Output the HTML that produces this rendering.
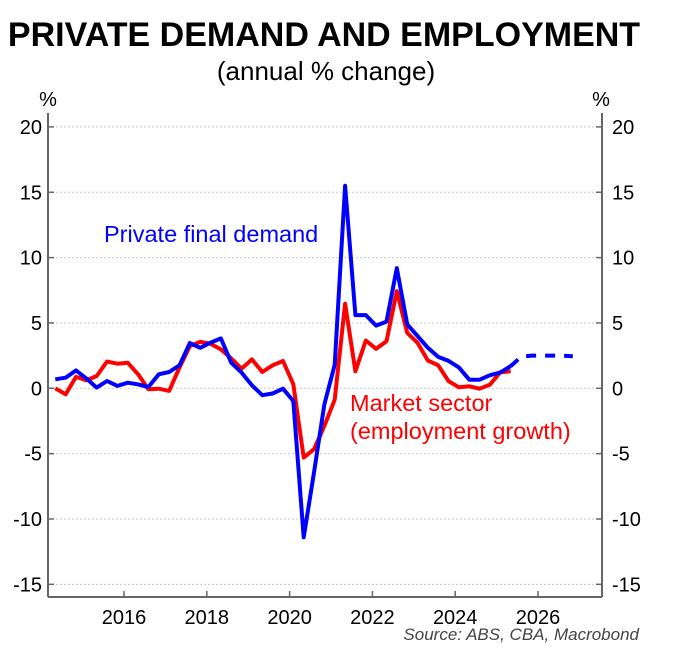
<!DOCTYPE html>
<html><head><meta charset="utf-8"><style>
body{margin:0;background:#fff;}
svg{display:block;font-family:"Liberation Sans",sans-serif;}
</style></head><body>
<svg id="chart" width="673" height="653" viewBox="0 0 673 653">
<text x="324" y="46" text-anchor="middle" font-size="34" font-weight="bold">PRIVATE DEMAND AND EMPLOYMENT</text>
<text x="326" y="80" text-anchor="middle" font-size="26">(annual % change)</text>
<text x="48" y="106" text-anchor="middle" font-size="20">%</text>
<text x="601" y="106" text-anchor="middle" font-size="20">%</text>
<g id="grid"></g><g id="axes"></g><g id="series"></g>
<text x="104" y="242" font-size="23.5" fill="#0000ff">Private final demand</text>
<text x="350" y="411" font-size="23.5" fill="#ff0000">Market sector</text>
<text x="350" y="439" font-size="23.5" fill="#ff0000">(employment growth)</text>
<text x="639" y="640" text-anchor="end" font-size="17" font-style="italic" fill="#444">Source: ABS, CBA, Macrobond</text>
</svg>
<script>
const yTicks=[20,15,10,5,0,-5,-10,-15];
const xTicks=[2016,2018,2020,2022,2024,2026];
const startYear=2014.34;
const demand=[0.69,0.81,1.37,0.76,0.05,0.56,0.18,0.43,0.3,0.1,1.07,1.25,1.76,3.46,3.1,3.49,3.82,1.96,1.2,0.23,-0.53,-0.4,-0.03,-0.97,-11.4,-6.44,-1.22,1.8,15.5,5.6,5.6,4.8,5.1,9.2,4.9,4.0,3.1,2.4,2.1,1.6,0.66,0.66,1.0,1.2,1.7];
const demandForecast=[1.7,2.4,2.5,2.5,2.5,2.5,2.45];
const employment=[0,-0.46,0.87,0.61,0.94,2.04,1.88,1.96,1.07,-0.08,-0.03,-0.2,1.58,3.23,3.56,3.41,2.98,2.29,1.5,2.21,1.25,1.76,2.09,0.31,-5.3,-4.66,-2.88,-0.87,6.47,1.3,3.66,3.02,3.6,7.44,4.25,3.48,2.12,1.76,0.54,0.08,0.15,-0.03,0.28,1.23,1.3];
const NS="http://www.w3.org/2000/svg";
const L=48,R=602,B=597;
function yS(v){return 388.3-v*13.07;}
function xS(t){return 124+(t-2016)*41.4;}
function mk(tag,attrs,parent){const e=document.createElementNS(NS,tag);for(const k in attrs)e.setAttribute(k,attrs[k]);parent.appendChild(e);return e;}
const grid=document.getElementById('grid'),axes=document.getElementById('axes'),ser=document.getElementById('series');
yTicks.forEach(v=>{
 const g=mk('line',{x1:L,x2:R,y1:yS(v),y2:yS(v),stroke:'#c8c8c8','stroke-width':1,'stroke-dasharray':'2,2'},grid);
 
 
 mk('line',{x1:L,x2:L+6,y1:yS(v),y2:yS(v),stroke:'#666','stroke-width':1.5},axes);
 mk('line',{x1:R-6,x2:R,y1:yS(v),y2:yS(v),stroke:'#666','stroke-width':1.5},axes);
 const a=mk('text',{x:42,y:yS(v)+7,'text-anchor':'end','font-size':20},axes);a.textContent=v;
 
 
 const b=mk('text',{x:612,y:yS(v)+7,'text-anchor':'start','font-size':20},axes);b.textContent=v;
 
 
});
mk('line',{x1:L,x2:L,y1:113,y2:B,stroke:'#666','stroke-width':2},axes);
mk('line',{x1:R,x2:R,y1:113,y2:B,stroke:'#666','stroke-width':2},axes);
mk('line',{x1:L,x2:R,y1:B,y2:B,stroke:'#666','stroke-width':2},axes);
xTicks.forEach(t=>{
 mk('line',{x1:xS(t),x2:xS(t),y1:B,y2:B-6,stroke:'#666','stroke-width':1.5},axes);
 const e=mk('text',{x:xS(t),y:624,'text-anchor':'middle','font-size':20},axes);e.textContent=t;
 
 
});
function path(arr,off){return arr.map((v,i)=>(i?'L':'M')+xS(startYear+(i+off)*0.25).toFixed(1)+','+yS(v).toFixed(1)).join(' ');}
const r=mk('path',{d:path(employment,0),fill:'none',stroke:'#ff0000','stroke-width':4,'stroke-linejoin':'round'},ser);


const bl=mk('path',{d:path(demand,0),fill:'none',stroke:'#0000ff','stroke-width':4,'stroke-linejoin':'round'},ser);


const f=mk('path',{d:path(demandForecast,demand.length-1),fill:'none',stroke:'#0000ff','stroke-width':4,'stroke-dasharray':'10,9'},ser);


</script>
</body></html>
